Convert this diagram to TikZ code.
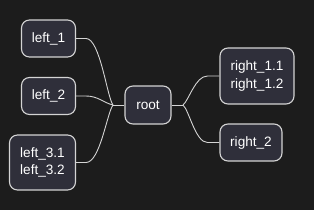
\documentclass[tikz,border=0pt]{standalone}
\usepackage{fontspec}
\setmainfont{Liberation Sans}
\definecolor{bg}{HTML}{1C1C1C}
\definecolor{nodefill}{HTML}{2F2F3A}
\definecolor{edge}{HTML}{D4D4D4}
\tikzset{
  mm/.style={draw=edge, fill=nodefill, line width=1.1pt, rounded corners=8pt,
    text=white, align=center, inner sep=0pt,
    font=\fontsize{13.6}{17.6}\selectfont},
  link/.style={draw=edge, line width=0.9pt}
}
\begin{document}
\begin{tikzpicture}[x=1pt,y=-1pt]
\fill[bg] (0,0) rectangle (314,210);
\useasboundingbox (0,0) rectangle (314,210);
\node[mm, minimum width=54pt, minimum height=37pt] (l1) at (48.5,38.5) {left\_1};
\node[mm, minimum width=54pt, minimum height=37pt] (l2) at (48.5,96) {left\_2};
\node[mm, minimum width=66pt, minimum height=55pt] (l3) at (42.5,162.5) {left\_3.1\\left\_3.2};
\node[mm, minimum width=46pt, minimum height=38pt] (root) at (148,105) {root};
\node[mm, minimum width=74pt, minimum height=56pt] (r1) at (257,76) {right\_1.1\\right\_1.2};
\node[mm, minimum width=62pt, minimum height=37pt] (r2) at (251,142.5) {right\_2};
\coordinate (jl) at (113,105);
\coordinate (jr) at (183,105);
\draw[link] (root.west) -- (jl);
\draw[link] (root.east) -- (jr);
\draw[link] (l1.east) -- ++(10,0) .. controls +(14,0) and (107,97) .. (jl);
\draw[link] (l2.east) -- ++(10,0) .. controls +(12,0) and (104,103) .. (jl);
\draw[link] (l3.east) -- ++(10,0) .. controls +(14,0) and (107,113) .. (jl);
\draw[link] (r1.west) -- ++(-12,0) .. controls +(-12,0) and (189,100) .. (jr);
\draw[link] (r2.west) -- ++(-12,0) .. controls +(-12,0) and (189,110) .. (jr);
\end{tikzpicture}
\end{document}
